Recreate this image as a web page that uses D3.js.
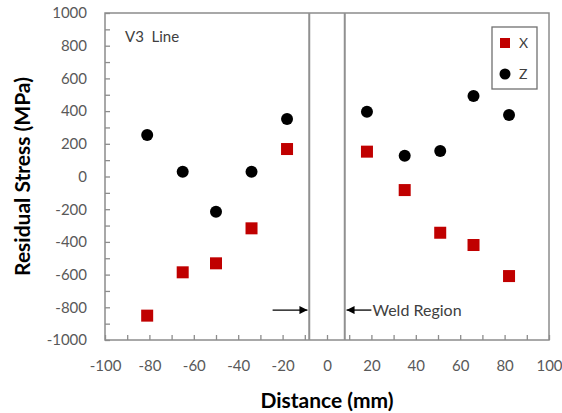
<!DOCTYPE html>
<html>
<head>
<meta charset="utf-8">
<script src="https://cdn.jsdelivr.net/npm/d3@7"></script>
<style>
  body { margin: 0; background: #fff; }
  text { font-family: Lato, "Open Sans", sans-serif; }
</style>
</head>
<body>
<div id="chart"></div>
<script>
var width = 562;
var height = 413;
var margin = {top: 13, right: 13, bottom: 73, left: 105};
var plotW = width - margin.left - margin.right;
var plotH = height - margin.top - margin.bottom;

// data
var distance = [-81, -65, -50, -34, -18, 18, 35, 51, 66, 82];
var stressX = [-851, -586, -531, -317, 168, 152, -83, -344, -419, -609];
var stressZ = [254, 29, -215, 29, 352, 396, 127, 156, 492, 376];
var xTicks = [-100, -80, -60, -40, -20, 0, 20, 40, 60, 80, 100];
var yTicks = [-1000, -800, -600, -400, -200, 0, 200, 400, 600, 800, 1000];
var weldEdges = [-8, 8];

var canvas = d3.select('#chart')
  .append('svg')
  .attr('width', width)
  .attr('height', height);
var g = canvas.append('g')
  .attr('transform', 'translate(' + margin.left + ',' + margin.top + ')');

var xScale = d3.scaleLinear().domain([-100, 100]).range([0, plotW]);
var yScale = d3.scaleLinear().domain([-1000, 1000]).range([plotH, 0]);

var axisColor = '#8c8c8c';
var labelColor = '#595959';

// inner tick marks
var xTickMarks = d3.axisBottom(xScale).ticks(20).tickSize(-5).tickFormat('').tickSizeOuter(0);
var yTickMarks = d3.axisLeft(yScale).ticks(20).tickSize(-5).tickFormat('').tickSizeOuter(0);
g.append('g').attr('transform', 'translate(0,' + plotH + ')').call(xTickMarks);
g.append('g').call(yTickMarks);
g.selectAll('.domain').remove();
g.selectAll('.tick line').attr('stroke', axisColor).attr('stroke-width', 1.3);

// frame
g.append('rect')
  .attr('x', 0).attr('y', 0)
  .attr('width', plotW).attr('height', plotH)
  .attr('fill', 'none')
  .attr('stroke', axisColor)
  .attr('stroke-width', 1.5);

// tick labels (plain hyphen minus, no thousands separator)
var plain = function(d){ return String(d); };
var xAxis = d3.axisBottom(xScale).tickValues(xTicks).tickSize(0).tickPadding(20).tickFormat(plain);
var yAxis = d3.axisLeft(yScale).tickValues(yTicks).tickSize(0).tickPadding(18).tickFormat(plain);
var xg = g.append('g').attr('transform', 'translate(0,' + plotH + ')').call(xAxis);
var yg = g.append('g').call(yAxis);
[xg, yg].forEach(function(a){
  a.select('.domain').remove();
  a.selectAll('text')
    .style('font-size', '15px')
    .style('font-family', 'Lato, sans-serif')
    .attr('fill', labelColor);
});

// weld region lines
g.selectAll('.weld')
  .data(weldEdges)
  .enter()
  .append('line')
  .attr('class', 'weld')
  .attr('x1', function(d){ return xScale(d); })
  .attr('x2', function(d){ return xScale(d); })
  .attr('y1', 0)
  .attr('y2', plotH)
  .attr('stroke', '#909090')
  .attr('stroke-width', 2);

// arrows
canvas.append('defs').append('marker')
  .attr('id', 'arrow')
  .attr('viewBox', '0 0 10 10')
  .attr('refX', 10).attr('refY', 5)
  .attr('markerWidth', 9).attr('markerHeight', 8)
  .attr('markerUnits', 'userSpaceOnUse')
  .attr('orient', 'auto')
  .append('path')
  .attr('d', 'M0,0 L10,5 L0,10 z')
  .attr('fill', '#000');

var arrowY = yScale(-817);
g.append('line')
  .attr('x1', xScale(-24.5)).attr('x2', xScale(-8.8))
  .attr('y1', arrowY).attr('y2', arrowY)
  .attr('stroke', '#000').attr('stroke-width', 1.3)
  .attr('marker-end', 'url(#arrow)');
g.append('line')
  .attr('x1', xScale(20)).attr('x2', xScale(8.8))
  .attr('y1', arrowY).attr('y2', arrowY)
  .attr('stroke', '#000').attr('stroke-width', 1.3)
  .attr('marker-end', 'url(#arrow)');
g.append('text')
  .text('Weld Region')
  .attr('x', xScale(20.5))
  .attr('y', arrowY + 6)
  .style('font-size', '16px')
  .attr('fill', '#404040');

// Z points
g.selectAll('circle.z')
  .data(distance)
  .enter()
  .append('circle')
  .attr('class', 'z')
  .attr('cx', function(d){ return xScale(d); })
  .attr('cy', function(d, i){ return yScale(stressZ[i]); })
  .attr('r', 6)
  .attr('fill', '#000');

// X points
var sq = 12;
g.selectAll('rect.x')
  .data(distance)
  .enter()
  .append('rect')
  .attr('class', 'x')
  .attr('x', function(d){ return xScale(d) - sq / 2; })
  .attr('y', function(d, i){ return yScale(stressX[i]) - sq / 2; })
  .attr('width', sq)
  .attr('height', sq)
  .attr('fill', '#c00000');

// V3 Line label
g.append('text')
  .text('V3  Line')
  .attr('x', 20)
  .attr('y', 29)
  .attr('xml:space', 'preserve')
  .style('white-space', 'pre')
  .style('font-size', '15px')
  .attr('fill', '#404040');

// legend
var legend = canvas.append('g');
legend.append('rect')
  .attr('x', 492).attr('y', 27)
  .attr('width', 45).attr('height', 62)
  .attr('fill', '#fff')
  .attr('stroke', '#707070')
  .attr('stroke-width', 1.3);
legend.append('rect')
  .attr('x', 500).attr('y', 38)
  .attr('width', 10).attr('height', 10)
  .attr('fill', '#c00000');
legend.append('circle')
  .attr('cx', 505).attr('cy', 74)
  .attr('r', 5.5)
  .attr('fill', '#000');
legend.append('text').text('X')
  .attr('x', 519).attr('y', 48)
  .style('font-size', '14px').attr('fill', '#404040');
legend.append('text').text('Z')
  .attr('x', 519).attr('y', 79)
  .style('font-size', '14px').attr('fill', '#404040');

// axis titles
canvas.append('text')
  .text('Distance (mm)')
  .attr('text-anchor', 'middle')
  .attr('x', margin.left + plotW / 2)
  .attr('y', 408)
  .style('font-size', '21px')
  .style('font-weight', 'bold')
  .attr('fill', '#000');
canvas.append('text')
  .text('Residual Stress (MPa)')
  .attr('text-anchor', 'middle')
  .attr('transform', 'translate(30,' + (margin.top + plotH / 2) + ')rotate(-90)')
  .style('font-size', '21px')
  .style('font-weight', 'bold')
  .attr('fill', '#000');
</script>
</body>
</html>
